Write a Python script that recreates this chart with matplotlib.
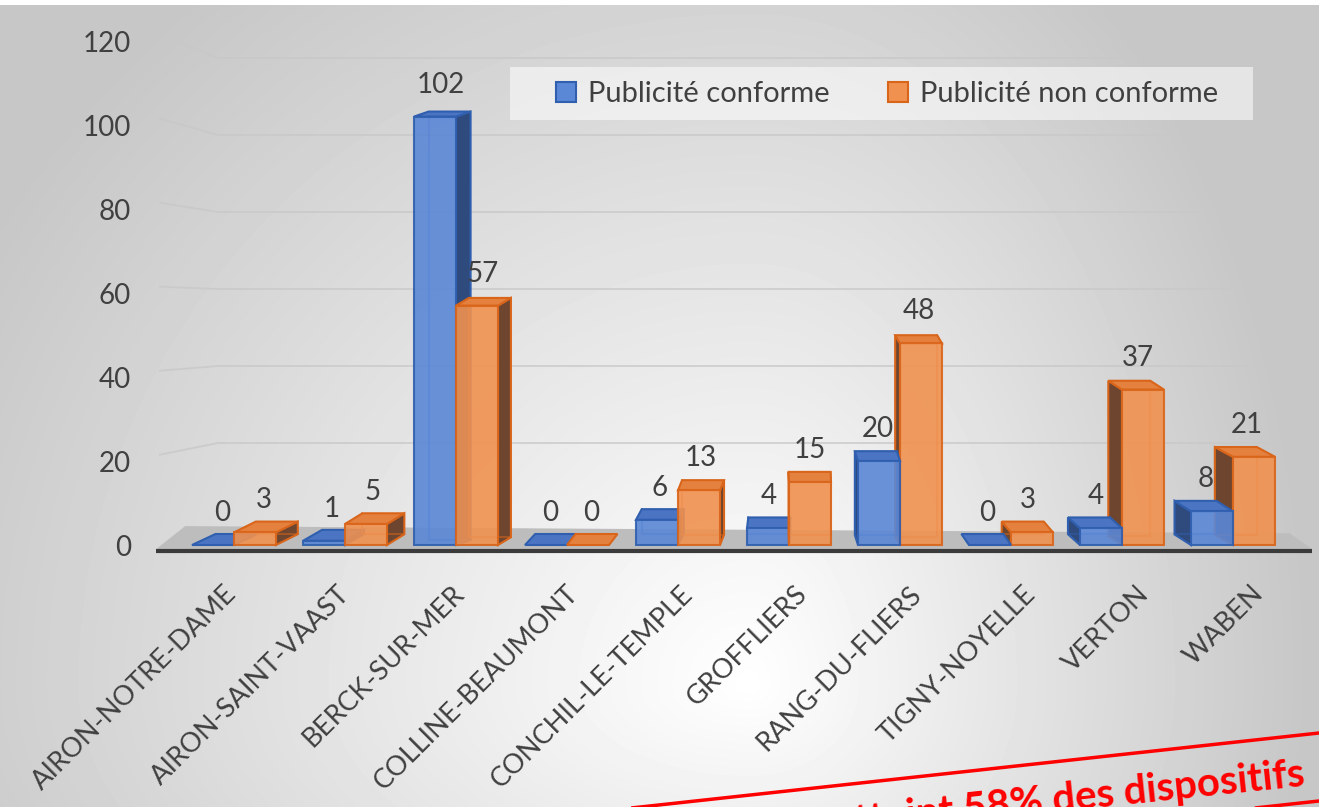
import numpy as np
import matplotlib.pyplot as plt
from matplotlib.patches import Polygon, Rectangle, Patch

communes = ["AIRON-NOTRE-DAME", "AIRON-SAINT-VAAST", "BERCK-SUR-MER", "COLLINE-BEAUMONT",
            "CONCHIL-LE-TEMPLE", "GROFFLIERS", "RANG-DU-FLIERS", "TIGNY-NOYELLE",
            "VERTON", "WABEN"]
conforme = [0, 1, 102, 0, 6, 4, 20, 0, 4, 8]
non_conforme = [3, 5, 57, 0, 13, 15, 48, 3, 37, 21]
series = ["Publicité conforme", "Publicité non conforme"]
y_ticks = [0, 20, 40, 60, 80, 100, 120]
banner_text = "La publicité non conforme atteint 58% des dispositifs"

plt.rcParams['font.family'] = ['Lato', 'DejaVu Sans']
TXT = '#404040'

W, H = 1319, 807
fig = plt.figure(figsize=(W / 100, H / 100), dpi=100)

# fond dégradé gris
bg = fig.add_axes([0, 0, 1, 1 - 5 / H])
yy, xx = np.mgrid[0:H - 5, 0:W]
sx = np.where(xx < 750, 760.0, 480.0)
sy = np.where(yy < 680, 760.0, 400.0)
r = np.sqrt(((xx - 750) / sx) ** 2 + ((yy - 680) / sy) ** 2)
shade = 1 - np.clip(0.19 * r, 0, 0.22)
bg.imshow(shade, cmap='gray', vmin=0, vmax=1, aspect='auto', interpolation='bilinear')
bg.axis('off')

# axe principal (1 unité x = 111 px, 1 unité y = 4.2 px)
ax = fig.add_axes([160 / W, 1 - 545 / H, 1150 / W, 504 / H])
ax.set_xlim(-74 / 111, 1076 / 111)
ax.set_ylim(0, 120)
ax.patch.set_alpha(0)
for s in ax.spines.values():
    s.set_visible(False)

# quadrillage sur le mur du fond
for v in y_ticks[1:]:
    yb = (25 + 3.85 * v) / 4.2
    ax.plot([-74 / 111, -0.144, 9.6], [v + 1.5, yb, yb], color='#c8c8c8', lw=1.3,
            alpha=0.8, zorder=0, clip_on=False)

# sol
ax.add_patch(Polygon([(-0.70, -0.95), (9.71, -0.95), (9.51, 2.8), (-0.44, 4.5)],
                     closed=True, facecolor='#bdbdbd', edgecolor='none', zorder=1,
                     clip_on=False))
ax.plot([-0.70, 9.71], [-1.45, -1.45], color='#3b3b3b', lw=3, zorder=1,
        solid_capstyle='butt', clip_on=False)

styles = [
    dict(front='#5a87d6', top='#4b74c2', side='#2f4a7c', edge='#2f5fae'),
    dict(front='#f0914f', top='#e5813f', side='#6e4630', edge='#d9651a'),
]
w = 42 / 111


def draw_bar(x0, h, st, z):
    x1 = x0 + w
    cx_px = 234 + 111 * (x0 + w / 2)
    dx = 0.04 * (800 - cx_px) / 111
    dy = (4 + 7 * (1 - h / 120)) / 4.2
    if dx > 0:
        side = [(x1, 0), (x1 + dx, dy), (x1 + dx, h + dy), (x1, h)]
        back = [(x0 + dx, h + dy), (x0 + dx, dy), (x1 + dx, dy)]
    else:
        side = [(x0, 0), (x0 + dx, dy), (x0 + dx, h + dy), (x0, h)]
        back = [(x1 + dx, h + dy), (x1 + dx, dy), (x0 + dx, dy)]
    if h > 0:
        ax.add_patch(Polygon(side, closed=True, facecolor=st['side'], edgecolor=st['edge'],
                             lw=1.5, zorder=z, clip_on=False))
        ax.plot(*zip(*back), color=st['edge'], lw=1.2, alpha=0.6, zorder=z + 0.1,
                clip_on=False)
    top = [(x0, h), (x1, h), (x1 + dx, h + dy), (x0 + dx, h + dy)]
    ax.add_patch(Polygon(top, closed=True, facecolor=st['top'], edgecolor=st['edge'],
                         lw=1.5, zorder=z + 0.2, clip_on=False))
    if h > 0:
        ax.add_patch(Rectangle((x0, 0), w, h, facecolor=st['front'], edgecolor=st['edge'],
                               lw=1.5, alpha=0.9, zorder=z + 0.3, clip_on=False))
    return dx


for i, (a, b) in enumerate(zip(conforme, non_conforme)):
    right_side = (234 + 111 * i) < 800
    za, zb = (3, 4) if right_side else (4, 3)
    for x0, h, st, z in [(i - w, a, styles[0], za), (i, b, styles[1], zb)]:
        dx = draw_bar(x0, h, st, z)
        ax.annotate(str(h), (x0 + w / 2 + 0.4 * dx, h), xytext=(0, 23),
                    textcoords='offset points', ha='center', va='center',
                    fontsize=20, color=TXT, zorder=6)

ax.set_yticks(y_ticks)
ax.tick_params(axis='y', length=0, pad=21, labelsize=20, labelcolor=TXT)
ax.set_xticks([])

# étiquettes des communes (décalage de perspective)
for i, name in enumerate(communes):
    off = (-2 + 3.2 * i) / 111
    ax.text(i + off, -45 / 4.2, name, rotation=45, ha='right', va='center',
            rotation_mode='anchor', fontsize=19.5, color=TXT, clip_on=False)

# légende
fig.add_artist(Rectangle((510 / W, 1 - 120 / H), 743 / W, 53 / H, transform=fig.transFigure,
                         facecolor='white', edgecolor='none', alpha=0.55, zorder=2))
handles = [Patch(facecolor=st['front'], edgecolor=st['edge'], lw=1.5) for st in styles]
fig.legend(handles, series, loc='center', bbox_to_anchor=(887 / W, 1 - 94 / H), ncol=2,
           frameon=False, fontsize=21, handlelength=0.7, handleheight=0.7,
           handletextpad=0.4, columnspacing=2.0, labelcolor=TXT)


# bandeau rouge
def fp(x, y):
    return (x / W, 1 - y / H)


fig.add_artist(Polygon([fp(600, 811.4), fp(1330, 731.8), fp(1330, 799.8), fp(600, 879.4)],
                       closed=True, transform=fig.transFigure, facecolor='none',
                       edgecolor='red', lw=2.5, zorder=5))
fig.text(1306 / W, 1 - 786 / H, banner_text, color='red', fontsize=29, fontweight='bold',
         ha='right', va='baseline', rotation=6.0, rotation_mode='anchor', zorder=6)

fig.savefig('out.png', dpi=100)
